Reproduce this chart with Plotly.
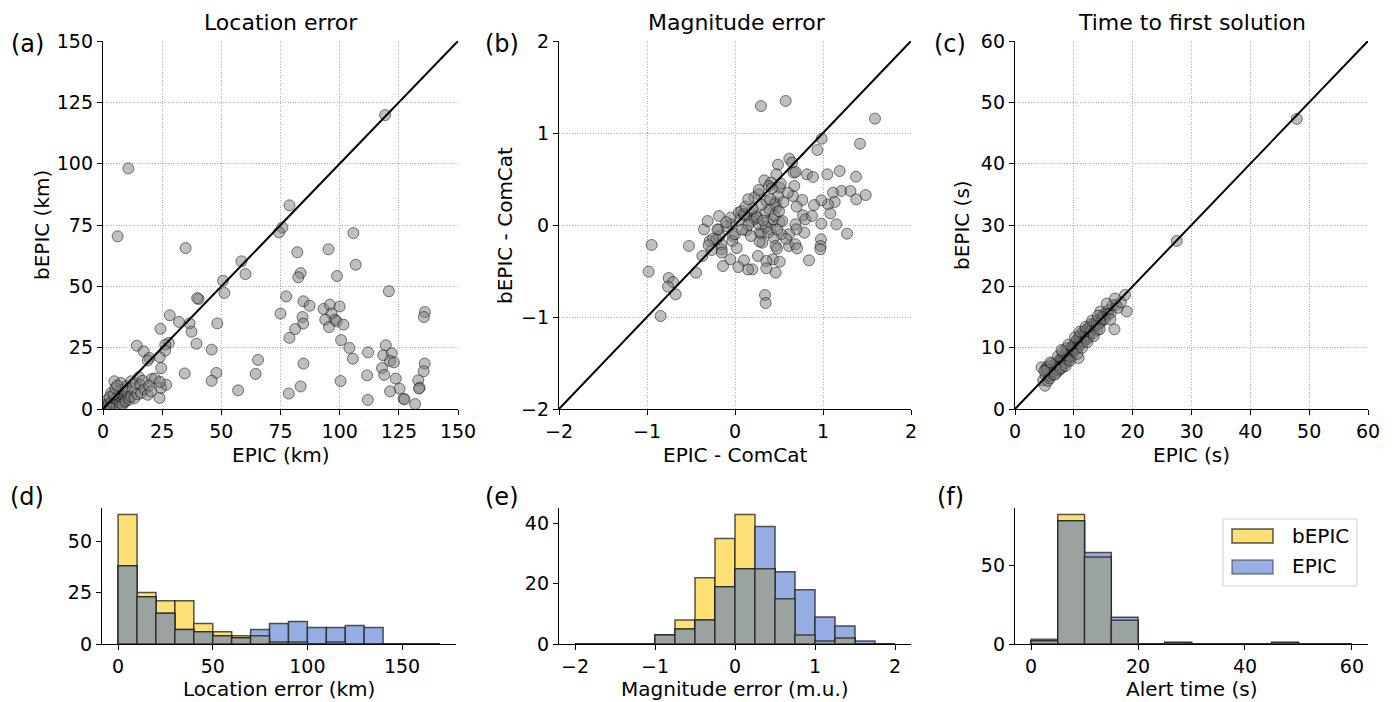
import plotly.graph_objects as go

W, H = 1395, 702
def px(x):
    return x / W
def py(y):
    return 1 - y / H

FONT = "DejaVu Sans"

# ---------------- data ----------------
# (a) location error: EPIC (x) vs bEPIC (y), km
loc_epic = [119.2, 10.7, 78.8, 75.8, 74.4, 6.2, 105.8, 34.9, 82.1, 95.3, 106.8, 58.5, 60.2, 83.5, 82.5,
            98.9, 50.7, 51.3, 40.4, 39.8, 120.8, 77.4, 84.7, 87.3, 75.0, 93.2, 95.9, 100.0, 96.6, 93.9,
            98.0, 98.7, 95.5, 101.6, 84.3, 84.6, 81.2, 78.8, 136.0, 135.6, 28.2, 32.1, 36.6, 37.4, 48.3,
            24.3, 100.6, 104.1, 105.6, 119.5, 112.0, 118.4, 122.0, 121.3, 122.9, 39.5, 45.9, 27.8, 26.3, 26.3,
            14.3, 17.2, 19.6, 18.9, 24.0, 24.6, 65.5, 84.7, 135.9, 135.5, 117.9, 118.8, 123.7, 111.6, 133.2,
            133.8, 133.5, 125.3, 121.3, 127.0, 127.4, 131.9, 111.9, 100.4, 83.5, 78.5, 64.5, 57.1, 47.9, 45.9,
            34.5, 20.6,
            0.8, 1.5, 2.0, 1.3, 2.5, 3.0, 3.4, 3.8, 4.2, 4.8, 5.0, 5.5, 5.8, 6.2, 6.5, 6.9, 7.2, 7.6, 7.8, 8.0,
            8.3, 8.6, 8.8, 9.0, 9.2, 9.5, 9.7, 9.8, 2.8, 4.5, 5.2, 6.0, 3.2, 7.0, 8.2, 9.5,
            10.2, 10.8, 11.1, 11.9, 11.9, 12.5, 13.3, 13.8, 14.5, 15.2, 15.8, 16.1, 16.8, 17.5, 18.9, 19.5, 20.3,
            23.9, 24.6, 26.7, 22.0, 24.0]
loc_bepic = [119.8, 98.1, 83.0, 74.0, 72.0, 70.4, 71.7, 65.6, 63.9, 65.1, 58.8, 60.2, 55.0, 55.4, 53.7,
             54.2, 52.3, 47.3, 44.8, 45.2, 48.0, 45.9, 43.9, 42.1, 38.9, 40.8, 42.5, 41.8, 38.9, 36.4,
             36.4, 35.7, 33.4, 34.4, 37.5, 34.8, 32.6, 29.0, 39.5, 37.5, 38.2, 35.5, 34.9, 31.5, 34.9,
             32.7, 28.1, 24.9, 20.5, 26.0, 23.1, 21.9, 22.7, 19.6, 19.0, 26.6, 24.2, 26.9, 26.2, 23.8,
             25.8, 23.5, 20.8, 19.8, 21.1, 16.7, 20.0, 18.5, 18.5, 15.4, 16.7, 13.9, 12.4, 13.7, 11.7,
             8.7, 8.3, 8.3, 7.2, 4.2, 3.9, 2.0, 3.7, 11.4, 9.2, 6.3, 14.3, 7.6, 14.7, 11.5,
             14.5, 12.2,
             1.2, 0.5, 3.8, 1.8, 2.0, 1.0, 6.5, 3.0, 2.2, 11.3, 4.0, 4.5, 1.5, 3.0, 5.5, 7.2, 2.5, 10.6, 4.5, 6.0,
             3.5, 8.0, 5.0, 5.1, 2.8, 6.8, 9.2, 4.2, 4.8, 6.0, 8.5, 9.5, 0.4, 0.8, 1.8, 3.2,
             7.0, 4.8, 3.8, 11.3, 5.1, 8.5, 4.5, 10.5, 6.0, 13.0, 9.9, 6.5, 11.5, 8.0, 5.8, 9.5, 7.2,
             4.5, 8.6, 9.9, 12.5, 11.0]

# (b) magnitude error: EPIC - ComCat (x) vs bEPIC - ComCat (y)
mag_epic = [0.295, 0.576, 1.591, 0.985, 0.936, 1.420, 0.617, 0.489, 0.648, 0.667, 0.689, 0.470, 0.818, 0.886,
            1.049, 1.189, 1.375, 0.333, 0.409, 0.386, 0.508, 0.674, 0.659, 0.765, 0.269, 0.356, 0.462, 0.470,
            0.489, 1.208, 1.114, 1.311, 1.379, 1.485, 1.133, 1.057, 0.981, 1.083, 0.898, 0.773, 0.799, 0.875,
            0.981, 1.152, 1.273, 0.977, 0.973, 0.970, 0.841, 0.788, 0.686, 0.697, 0.614, 0.527, 0.508, 0.405,
            0.439, 0.299, 0.311, 0.462, 0.477, 0.614, 0.686, 0.705, 0.261, 0.432, 0.508, 0.356, 0.356, 0.462,
            0.197, 0.148, 0.102, 0.038, -0.053, -0.136, -0.152, -0.155, -0.265, -0.288, -0.371, -0.443, -0.523,
            -0.352, -0.311, -0.182, -0.186, -0.174, -0.042, -0.023, -0.030, 0.042, 0.072, 0.129, 0.186, 0.242,
            0.223, 0.280, 0.345, 0.375, 0.432, 0.538, -0.947, -0.981, -0.845, -0.754, -0.705, -0.761, -0.674,
            0.341, 0.348, -0.098, -0.212, 0.186, 0.110, 0.273, 0.394, 0.451,
            0.05, 0.10, 0.15, 0.20, 0.25, 0.30, 0.35, 0.40, 0.45, 0.50, 0.00, -0.05, -0.10, 0.08, 0.18, 0.28,
            0.38, 0.48, 0.55, 0.60, 0.22, 0.12, -0.20, -0.25, -0.15, 0.02, 0.58, 0.42, 0.52, 0.70, 0.32, 0.27,
            -0.30, 0.15]
mag_bepic = [1.293, 1.348, 1.156, 0.938, 0.815, 0.884, 0.721, 0.656, 0.678, 0.569, 0.576, 0.551, 0.551, 0.522,
             0.551, 0.587, 0.525, 0.486, 0.460, 0.424, 0.406, 0.424, 0.315, 0.272, 0.337, 0.261, 0.243, 0.188,
             0.315, 0.370, 0.351, 0.370, 0.279, 0.326, 0.250, 0.225, 0.268, 0.127, 0.217, 0.105, 0.062, 0.098,
             0.014, 0.007, -0.094, -0.156, -0.228, -0.264, -0.384, -0.083, 0.007, -0.047, -0.101, -0.101, 0.033,
             -0.047, -0.138, -0.094, -0.192, -0.228, -0.257, -0.228, -0.210, -0.254, -0.337, -0.373, -0.399,
             -0.391, -0.471, -0.518, -0.482, -0.482, -0.384, -0.457, -0.373, -0.446, -0.264, -0.210, -0.272,
             -0.174, -0.337, -0.518, -0.228, -0.047, 0.043, 0.098, -0.047, -0.120, 0.007, -0.120, -0.174, 0.134,
             0.152, -0.058, 0.134, 0.098, 0.062, -0.083, 0.134, 0.043, 0.062, 0.043, -0.217, -0.507, -0.989,
             -0.576, -0.620, -0.670, -0.754, -0.761, -0.848, -0.011, -0.156, 0.043, 0.098, 0.007, 0.170, 0.225,
             0.05, 0.12, 0.00, 0.18, 0.08, 0.22, -0.02, 0.28, 0.10, 0.15, -0.10, 0.08, 0.03, -0.05, -0.12, -0.18,
             -0.08, -0.05, 0.25, 0.35, 0.30, 0.20, -0.05, -0.15, -0.30, -0.25, -0.15, 0.40, 0.45, 0.20, 0.05, 0.38,
             -0.22, 0.28]

# (c) time to first solution, s
time_epic = [4.5, 4.8,
             5.1, 5.2, 5.3, 5.5, 5.6, 5.7, 5.8, 5.9, 6.0, 6.1, 6.2, 6.3, 6.4, 6.5, 6.6, 6.7, 6.8, 6.9, 7.0, 7.1,
             7.2, 7.3, 7.4, 7.5, 7.6, 7.7, 7.8, 7.9, 8.0, 8.0, 8.1, 8.2, 8.3, 8.4, 8.5, 8.5, 8.6, 8.7, 8.8, 8.8,
             8.9, 9.0, 9.0, 9.1, 9.2, 9.3, 9.3, 9.4, 9.5, 9.5, 9.6, 9.6, 9.7, 9.8, 9.8, 9.9, 9.9, 6.2, 7.4, 8.7,
             10.0, 10.1, 10.2, 10.3, 10.4, 10.5, 10.6, 10.7, 10.8, 10.8, 10.9, 11.0, 11.1, 11.2, 11.3, 11.4, 11.5,
             11.6, 11.7, 11.8, 11.9, 12.0, 12.1, 12.2, 12.3, 12.4, 12.5, 12.6, 12.7, 12.8, 12.9, 13.0, 13.2, 13.3,
             13.5, 13.6, 13.8, 13.9, 14.0, 14.2, 14.3, 14.5, 14.6, 14.8, 14.9,
             15.1, 15.3, 15.5, 15.8, 16.0, 16.3, 16.6, 16.9, 17.2, 17.5, 18.0, 18.7, 19.0,
             27.5, 47.9,
             5.4, 6.0, 6.8, 7.3, 7.8, 8.1, 8.6, 9.1, 9.4, 10.2, 10.6, 11.0, 11.4, 12.0, 12.3, 13.1, 13.4, 14.1,
             14.4, 15.6, 16.2, 17.0, 5.0, 7.9]
time_bepic = [6.8, 4.7,
              3.8, 5.5, 6.6, 6.9, 4.6, 5.9, 6.3, 5.0, 5.4, 7.0, 6.1, 6.5, 5.7, 6.9, 6.2, 7.3, 6.4, 6.7, 5.9, 7.4,
              6.8, 7.1, 7.8, 7.0, 6.5, 7.6, 8.3, 7.2, 7.9, 8.4, 6.9, 8.5, 7.7, 8.1, 9.0, 8.3, 7.5, 8.8, 9.4, 8.6,
              8.2, 8.7, 9.5, 9.6, 8.0, 9.1, 8.4, 8.6, 9.9, 9.2, 9.3, 10.1, 8.8, 10.2, 9.4, 9.5, 10.4, 7.4, 6.3, 9.9,
              9.8, 10.6, 9.5, 10.9, 10.2, 11.3, 9.9, 10.5, 11.6, 8.3, 10.8, 11.9, 10.4, 11.2, 12.3, 11.0, 11.7,
              12.6, 10.9, 12.1, 11.5, 12.9, 12.0, 11.4, 12.7, 13.1, 12.2, 11.8, 13.4, 12.5, 13.8, 12.9, 13.5, 12.4,
              14.0, 13.2, 13.7, 14.3, 12.9, 14.6, 13.9, 15.9, 14.2, 15.0, 14.5,
              15.3, 14.7, 15.8, 15.4, 16.2, 15.7, 16.9, 13.0, 17.0, 16.5, 17.4, 18.6, 15.9,
              27.4, 47.3,
              6.4, 7.6, 5.6, 8.6, 6.6, 9.3, 7.0, 10.5, 7.9, 11.7, 9.0, 12.6, 10.0, 13.4, 10.9, 14.4, 11.9, 15.2,
              13.0, 17.2, 14.6, 18.0, 6.2, 9.6]

# histograms (counts per bin; bins given by left edge)
loc_bins = [0, 10, 20, 30, 40, 50, 60, 70, 80, 90, 100, 110, 120, 130, 140, 150, 160]
loc_cnt_bepic = [63, 25, 21, 21, 10, 6, 4, 4, 1, 1, 0, 1, 0, 0, 0, 0, 0]
loc_cnt_epic = [38, 23, 15, 7, 6, 4, 3, 7, 10, 11, 8, 8, 9, 8, 0, 0, 0]

mag_bins = [-2.0, -1.75, -1.5, -1.25, -1.0, -0.75, -0.5, -0.25, 0.0, 0.25, 0.5, 0.75, 1.0, 1.25, 1.5, 1.75]
mag_cnt_bepic = [0, 0, 0, 0, 3, 8, 22, 35, 43, 25, 15, 3, 1, 2, 0, 0]
mag_cnt_epic = [0, 0, 0, 0, 3, 5, 8, 19, 25, 39, 24, 18, 9, 6, 1, 0]

time_bins = [0, 5, 10, 15, 20, 25, 30, 35, 40, 45, 50, 55]
time_cnt_bepic = [3, 82, 55, 15, 0, 1, 0, 0, 0, 1, 0, 0]
time_cnt_epic = [2, 78, 58, 17, 0, 1, 0, 0, 0, 1, 0, 0]

# ---------------- styles ----------------
C_Y = "rgb(255,224,117)"
C_B = "rgb(150,174,228)"
C_G = "rgb(154,163,160)"
EDGE = "rgba(30,30,30,0.75)"

fig = go.Figure()

def scatter_panel(xs, ys, lo, hi, n):
    xa = "x" if n == 1 else f"x{n}"
    ya = "y" if n == 1 else f"y{n}"
    fig.add_trace(go.Scatter(x=xs, y=ys, mode="markers", xaxis=xa, yaxis=ya,
                             marker=dict(size=11, color="rgba(128,128,128,0.5)",
                                         line=dict(color="rgba(0,0,0,0.5)", width=1)),
                             hoverinfo="skip"))
    fig.add_trace(go.Scatter(x=[lo, hi], y=[lo, hi], mode="lines", xaxis=xa, yaxis=ya,
                             line=dict(color="black", width=2), hoverinfo="skip"))

def hist_panel(bins, cb, ce, w, n):
    xa = f"x{n}"
    ya = f"y{n}"
    overlap = [min(a, b) for a, b in zip(cb, ce)]
    for cnt, col in ((cb, C_Y), (ce, C_B), (overlap, C_G)):
        fig.add_trace(go.Bar(x=bins, y=cnt, width=w, offset=0, xaxis=xa, yaxis=ya,
                             marker=dict(color=col, line=dict(color=EDGE, width=1.5)),
                             hoverinfo="skip"))

scatter_panel(loc_epic, loc_bepic, 0, 150, 1)
scatter_panel(mag_epic, mag_bepic, -2, 2, 2)
scatter_panel(time_epic, time_bepic, 0, 60, 3)
hist_panel(loc_bins, loc_cnt_bepic, loc_cnt_epic, 10, 4)
hist_panel(mag_bins, mag_cnt_bepic, mag_cnt_epic, 0.25, 5)
hist_panel(time_bins, time_cnt_bepic, time_cnt_epic, 5, 6)

tickfont = dict(family=FONT, size=19, color="black")
base = dict(showline=True, linecolor="black", linewidth=1.3, ticks="outside", ticklen=5,
            tickwidth=1.3, tickcolor="black", tickfont=tickfont, zeroline=False, mirror=False,
            automargin=False, fixedrange=True)
grid = dict(showgrid=True, gridcolor="#b0b0b0", griddash="1px,1.6px", gridwidth=1)
nogrid = dict(showgrid=False)

top = [py(409), py(41)]
bot = [py(644), py(508)]
cols_top = [[px(103), px(458)], [px(559), px(911)], [px(1015), px(1368)]]
cols_bot = [[px(102), px(456)], [px(559), px(911)], [px(1015), px(1368)]]

layout = dict(
    template="none",
    width=W, height=H, margin=dict(l=0, r=0, t=0, b=0, autoexpand=False),
    plot_bgcolor="white", paper_bgcolor="white", showlegend=False, barmode="overlay",
    font=dict(family=FONT, color="black"),
    xaxis=dict(domain=cols_top[0], range=[0, 150], tickvals=[0, 25, 50, 75, 100, 125, 150], anchor="y", **base, **grid),
    yaxis=dict(domain=top, range=[0, 150], tickvals=[0, 25, 50, 75, 100, 125, 150], anchor="x", **base, **grid),
    xaxis2=dict(domain=cols_top[1], range=[-2, 2], tickvals=[-2, -1, 0, 1, 2], anchor="y2", **base, **grid),
    yaxis2=dict(domain=top, range=[-2, 2], tickvals=[-2, -1, 0, 1, 2], anchor="x2", **base, **grid),
    xaxis3=dict(domain=cols_top[2], range=[0, 60], tickvals=[0, 10, 20, 30, 40, 50, 60], anchor="y3", **base, **grid),
    yaxis3=dict(domain=top, range=[0, 60], tickvals=[0, 10, 20, 30, 40, 50, 60], anchor="x3", **base, **grid),
    xaxis4=dict(domain=cols_bot[0], range=[-8.5, 178.5], tickvals=[0, 50, 100, 150], anchor="y4", **base, **nogrid),
    yaxis4=dict(domain=bot, range=[0, 66.15], tickvals=[0, 25, 50], anchor="x4", **base, **nogrid),
    xaxis5=dict(domain=cols_bot[1], range=[-2.2, 2.2], tickvals=[-2, -1, 0, 1, 2], anchor="y5", **base, **nogrid),
    yaxis5=dict(domain=bot, range=[0, 45.15], tickvals=[0, 20, 40], anchor="x5", **base, **nogrid),
    xaxis6=dict(domain=cols_bot[2], range=[-3, 63], tickvals=[0, 20, 40, 60], anchor="y6", **base, **nogrid),
    yaxis6=dict(domain=bot, range=[0, 86.1], tickvals=[0, 50], anchor="x6", **base, **nogrid),
)
fig.update_layout(**layout)

annotations = []
def text(s, x, y, size, angle=0, xanchor="center", yanchor="middle"):
    annotations.append(dict(text=s, x=px(x), y=py(y), xref="paper", yref="paper", showarrow=False,
                            font=dict(family=FONT, size=size, color="black"), textangle=angle,
                            xanchor=xanchor, yanchor=yanchor))

# titles
text("Location error", 280.5, 22, 22)
text("Magnitude error", 737, 22, 22)
text("Time to first solution", 1191.5, 22, 22)
# panel labels
for s, x, y in (("(a)", 27, 44), ("(b)", 502, 44), ("(c)", 950, 44),
                ("(d)", 27, 497), ("(e)", 502, 497), ("(f)", 950, 497)):
    text(s, x, y, 24)
# axis labels
text("EPIC (km)", 280.5, 455, 20)
text("bEPIC (km)", 42, 225, 20, angle=-90)
text("EPIC - ComCat", 735, 455, 20)
text("bEPIC - ComCat", 505, 225, 20, angle=-90)
text("EPIC (s)", 1191.5, 455, 20)
text("bEPIC (s)", 962, 225, 20, angle=-90)
text("Location error (km)", 279, 689, 20)
text("Magnitude error (m.u.)", 735, 689, 20)
text("Alert time (s)", 1191.5, 689, 20)
# legend texts
text("bEPIC", 1290, 536, 20, xanchor="left")
text("EPIC", 1290, 566, 20, xanchor="left")

shapes = [
    dict(type="rect", xref="paper", yref="paper", x0=px(1223), x1=px(1357), y0=py(586), y1=py(519),
         line=dict(color="#d0d0d0", width=1), fillcolor="rgba(255,255,255,0.8)"),
    dict(type="rect", xref="paper", yref="paper", x0=px(1232), x1=px(1273), y0=py(543), y1=py(529),
         line=dict(color=EDGE, width=1.5), fillcolor=C_Y),
    dict(type="rect", xref="paper", yref="paper", x0=px(1232), x1=px(1273), y0=py(574), y1=py(560),
         line=dict(color="rgba(60,60,60,0.6)", width=1.5), fillcolor=C_B),
]
fig.update_layout(annotations=annotations, shapes=shapes)

fig.write_html("out.html")
